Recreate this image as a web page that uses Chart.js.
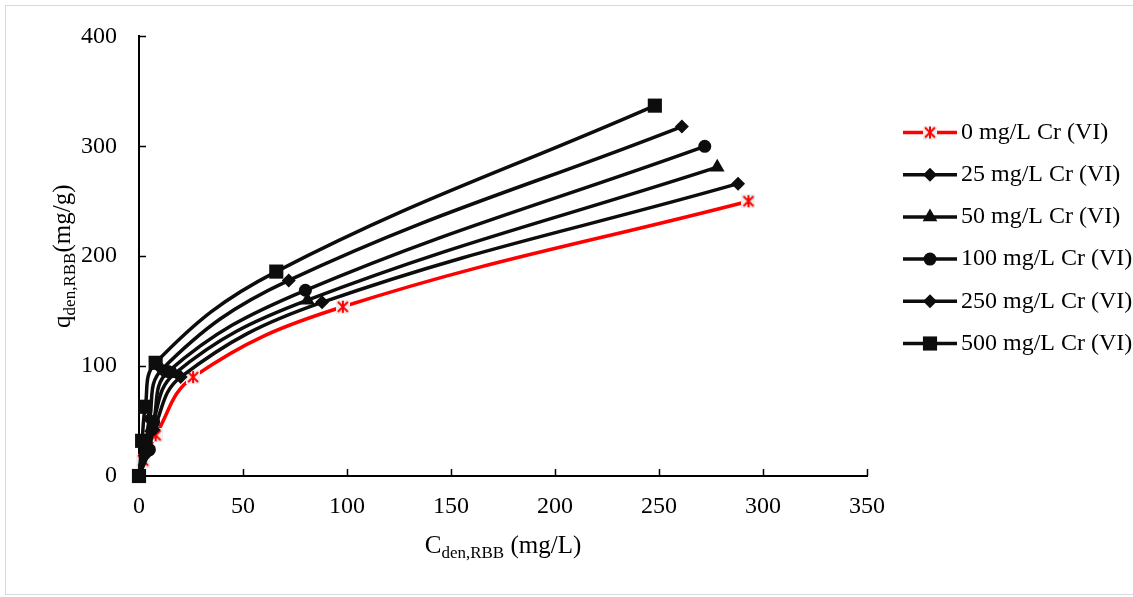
<!DOCTYPE html>
<html>
<head>
<meta charset="utf-8">
<script src="https://cdn.jsdelivr.net/npm/chart.js@4.4.0/dist/chart.umd.min.js"></script>
<style>
  body { margin: 0; background: #fff; }
  #marco { position: absolute; left: 5px; top: 5px; width: 1140px; height: 588px; border: 1px solid #d9d9d9; }
  #caja { position: absolute; left: 0; top: 0; width: 1133px; height: 597px; }
</style>
</head>
<body>
<div id="marco"></div>
<div id="caja"><canvas id="grafico" width="1133" height="597"></canvas></div>
<script>
// datos
const seriesLabels = ['0 mg/L Cr (VI)', '25 mg/L Cr (VI)', '50 mg/L Cr (VI)', '100 mg/L Cr (VI)', '250 mg/L Cr (VI)', '500 mg/L Cr (VI)'];
const cr0C = [0, 2, 8, 26, 98, 293];
const cr0Q = [0, 14, 37, 90, 154, 250];
const cr25C = [0, 3, 7, 20, 88, 288];
const cr25Q = [0, 19, 42, 90, 158, 266];
const cr50C = [0, 3, 6, 17, 81, 278];
const cr50Q = [0, 22, 44, 93, 160, 281];
const cr100C = [0, 5, 7, 14, 80, 272];
const cr100Q = [0, 24, 49, 95, 169, 300];
const cr250C = [0, 3, 5, 11, 72, 261];
const cr250Q = [0, 26, 52, 97, 178, 318];
const cr500C = [0, 1.5, 3, 8, 66, 248];
const cr500Q = [0, 32, 63, 103, 186, 337];
const xTicks = [0, 50, 100, 150, 200, 250, 300, 350];
const yTicks = [0, 100, 200, 300, 400];

const fuente = 'Liberation Serif, Times New Roman, serif';
Chart.defaults.font.family = fuente;
Chart.defaults.color = '#000';

// marcador de estrella tipo Excel (X con barra vertical)
function crearEstrella() {
  const c = document.createElement('canvas');
  c.width = 14; c.height = 14;
  const g = c.getContext('2d');
  g.fillStyle = '#eeeeee';
  g.fillRect(0, 0, 14, 14);
  g.strokeStyle = '#ff0000';
  g.lineWidth = 2;
  g.beginPath();
  g.moveTo(2, 2); g.lineTo(12, 12);
  g.moveTo(12, 2); g.lineTo(2, 12);
  g.moveTo(7, 1); g.lineTo(7, 13);
  g.stroke();
  return c;
}
const estrella = crearEstrella();

function puntos(xs, ys) {
  return xs.map((x, i) => ({ x: x, y: ys[i] }));
}

function serie(i, xs, ys, color, estilo, radio) {
  return {
    label: seriesLabels[i],
    data: puntos(xs, ys),
    order: seriesLabels.length - i, // como Excel: la ultima serie queda encima
    showLine: true,
    borderColor: color,
    backgroundColor: color === '#ff0000' ? '#ff0000' : '#0d0d0d',
    borderWidth: 3.5,
    tension: 0.4,
    pointStyle: estilo,
    pointRadius: radio,
    pointHoverRadius: radio,
    pointBorderWidth: 0,
    clip: false
  };
}

const datasets = [
  serie(0, cr0C, cr0Q, '#ff0000', estrella, 7),
  serie(1, cr25C, cr25Q, '#0d0d0d', 'rectRot', 7),
  serie(2, cr50C, cr50Q, '#0d0d0d', 'triangle', 8.5),
  serie(3, cr100C, cr100Q, '#0d0d0d', 'circle', 6.5),
  serie(4, cr250C, cr250Q, '#0d0d0d', 'rectRot', 7),
  serie(5, cr500C, cr500Q, '#0d0d0d', 'rect', 10)
];

// ticks hacia dentro
const ticksDentro = {
  id: 'ticksDentro',
  beforeDatasetsDraw(chart) {
    const { ctx, chartArea, scales } = chart;
    ctx.save();
    ctx.strokeStyle = '#000';
    ctx.lineWidth = 1.5;
    ctx.beginPath();
    xTicks.forEach(t => {
      const px = Math.round(scales.x.getPixelForValue(t)) + 0.5;
      ctx.moveTo(px, chartArea.bottom);
      ctx.lineTo(px, chartArea.bottom - 7);
    });
    yTicks.forEach(t => {
      const py = Math.round(scales.y.getPixelForValue(t)) + 0.5;
      ctx.moveTo(chartArea.left, py);
      ctx.lineTo(chartArea.left + 7, py);
    });
    ctx.stroke();
    ctx.restore();
  }
};

// texto con subindice
function medir(ctx, partes) {
  let w = 0;
  partes.forEach(p => { ctx.font = p.size + 'px ' + fuente; w += ctx.measureText(p.text).width; });
  return w;
}
function dibujarPartes(ctx, partes, x, y) {
  let cx = x;
  partes.forEach(p => {
    ctx.font = p.size + 'px ' + fuente;
    ctx.fillText(p.text, cx, y + p.dy);
    cx += ctx.measureText(p.text).width;
  });
}

const titulos = {
  id: 'titulos',
  afterDraw(chart) {
    const { ctx, chartArea } = chart;
    ctx.save();
    ctx.fillStyle = '#000';
    ctx.textBaseline = 'alphabetic';
    ctx.textAlign = 'left';
    const tx = [
      { text: 'C', size: 25, dy: 0 },
      { text: 'den,RBB', size: 17, dy: 5 },
      { text: ' (mg/L)', size: 25, dy: 0 }
    ];
    const wx = medir(ctx, tx);
    dibujarPartes(ctx, tx, (chartArea.left + chartArea.right) / 2 - wx / 2, 553);

    const ty = [
      { text: 'q', size: 25, dy: 0 },
      { text: 'den,RBB', size: 17, dy: 5 },
      { text: '(mg/g)', size: 25, dy: 0 }
    ];
    const wy = medir(ctx, ty);
    ctx.translate(70, (chartArea.top + chartArea.bottom) / 2);
    ctx.rotate(-Math.PI / 2);
    dibujarPartes(ctx, ty, -wy / 2, 0);
    ctx.restore();
  }
};

// leyenda a la derecha
const leyenda = {
  id: 'leyenda',
  afterDraw(chart) {
    const { ctx } = chart;
    ctx.save();
    chart.data.datasets.forEach((ds, i) => {
      const y = 132.5 + i * 42.2;
      ctx.strokeStyle = ds.borderColor;
      ctx.lineWidth = ds.borderWidth;
      ctx.beginPath();
      ctx.moveTo(903, y);
      ctx.lineTo(957, y);
      ctx.stroke();
      ctx.fillStyle = ds.backgroundColor;
      Chart.helpers.drawPoint(ctx, { pointStyle: ds.pointStyle, rotation: 0, radius: ds.pointRadius, borderWidth: 0 }, 930, y);
      ctx.fillStyle = '#000';
      ctx.font = '24px ' + fuente;
      ctx.textBaseline = 'middle';
      ctx.textAlign = 'left';
      ctx.fillText(ds.label, 961, y);
    });
    ctx.restore();
  }
};

new Chart(document.getElementById('grafico'), {
  type: 'scatter',
  data: { datasets: datasets },
  options: {
    responsive: false,
    animation: false,
    layout: { padding: { top: 36, right: 266, bottom: 0, left: 0 } },
    plugins: {
      legend: { display: false },
      tooltip: { enabled: false }
    },
    scales: {
      x: {
        type: 'linear',
        min: xTicks[0],
        max: xTicks[xTicks.length - 1],
        afterFit: s => { s.height = 121; },
        border: { color: '#000', width: 2 },
        grid: { drawOnChartArea: false, drawTicks: false },
        ticks: { stepSize: xTicks[1] - xTicks[0], padding: 16, maxRotation: 0, font: { size: 24 }, color: '#000' }
      },
      y: {
        type: 'linear',
        min: yTicks[0],
        max: yTicks[yTicks.length - 1],
        afterFit: s => { s.width = 139; },
        border: { color: '#000', width: 2 },
        grid: { drawOnChartArea: false, drawTicks: false },
        ticks: { stepSize: yTicks[1] - yTicks[0], padding: 22, font: { size: 24 }, color: '#000' }
      }
    }
  },
  plugins: [ticksDentro, titulos, leyenda]
});
</script>
</body>
</html>
